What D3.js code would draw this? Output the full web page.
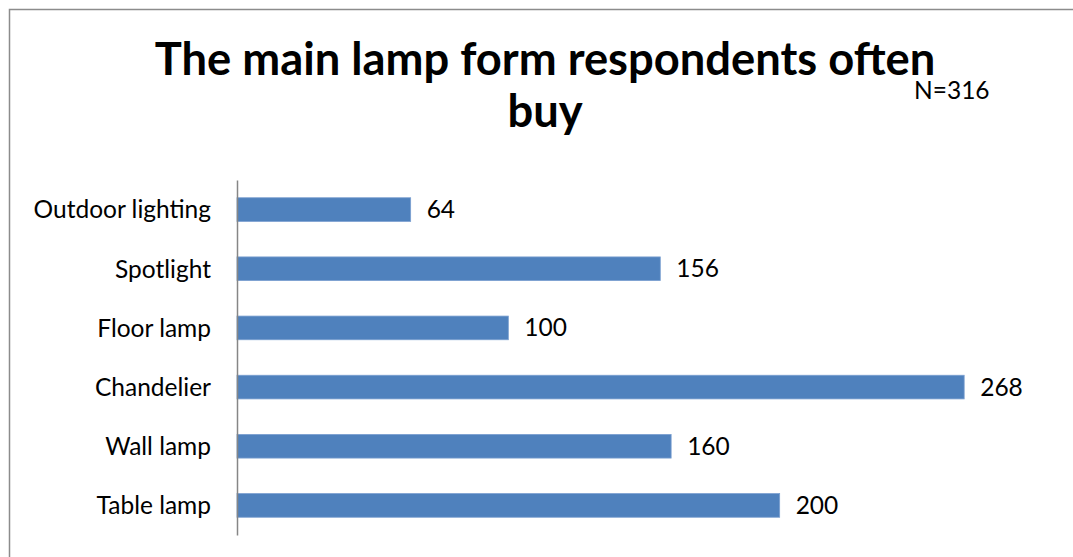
<!DOCTYPE html>
<html>
<head>
<meta charset="utf-8">
<script src="https://cdn.jsdelivr.net/npm/d3@7"></script>
<style>
  html, body { margin: 0; padding: 0; background: #fff; }
  svg { display: block; font-family: Lato, "Open Sans", sans-serif; }
</style>
</head>
<body>
<svg id="chart" width="1073" height="557"></svg>
<script>
// Lamp types, listed from the bottom of the chart to the top
const categories = ["Table lamp", "Wall lamp", "Chandelier", "Floor lamp", "Spotlight", "Outdoor lighting"];
const counts = [200, 160, 268, 100, 156, 64];
const titleLines = ["The main lamp form respondents often", "buy"];
const sampleNote = "N=316";

const svg = d3.select("#chart");
const W = 1073, H = 557;
const labelSize = 24.5;

// chart frame (open on the right and bottom edges)
svg.append("rect")
  .attr("x", 9.5).attr("y", 9.5)
  .attr("width", W + 20).attr("height", H + 20)
  .attr("fill", "#fff")
  .attr("stroke", "#8c8c8c").attr("stroke-width", 1.5);

const plot = { left: 237, right: 1051, top: 180, bottom: 535 };

const x = d3.scaleLinear().domain([0, 300]).range([plot.left, plot.right]);
const y = d3.scaleBand()
  .domain(categories.slice().reverse())
  .range([plot.top, plot.bottom])
  .paddingInner(0.6)
  .paddingOuter(0.3);

// title
const title = svg.append("text")
  .attr("text-anchor", "middle")
  .attr("font-weight", "bold")
  .attr("font-size", 45.3)
  .attr("fill", "#000");
titleLines.forEach((line, i) => {
  title.append("tspan").attr("x", 545).attr("y", 75 + i * 52).text(line);
});

svg.append("text")
  .attr("x", 914).attr("y", 99)
  .attr("font-size", labelSize)
  .attr("fill", "#000")
  .text(sampleNote);

// bars
const data = categories.map((c, i) => ({ category: c, value: counts[i] }));

svg.append("g")
  .selectAll("rect")
  .data(data)
  .join("rect")
  .attr("x", x(0))
  .attr("y", d => y(d.category))
  .attr("width", d => x(d.value) - x(0))
  .attr("height", y.bandwidth())
  .attr("fill", "#4f81bd")
  .attr("stroke", "#7a9fd0")
  .attr("stroke-width", 0.8);

// value labels
svg.append("g")
  .selectAll("text")
  .data(data)
  .join("text")
  .attr("x", d => x(d.value) + 16)
  .attr("y", d => y(d.category) + y.bandwidth() / 2 + 8.5)
  .attr("font-size", labelSize)
  .attr("fill", "#000")
  .text(d => d.value);

// category axis
const axis = d3.axisLeft(y).tickSize(0).tickPadding(26);
const gAxis = svg.append("g")
  .attr("transform", `translate(${plot.left},0)`)
  .call(axis);
gAxis.select(".domain").attr("stroke", "#868686").attr("stroke-width", 1.5);
gAxis.selectAll(".tick text")
  .attr("font-family", "Lato, 'Open Sans', sans-serif")
  .attr("font-size", labelSize)
  .attr("fill", "#000")
  .attr("dy", "0.36em");
</script>
</body>
</html>
